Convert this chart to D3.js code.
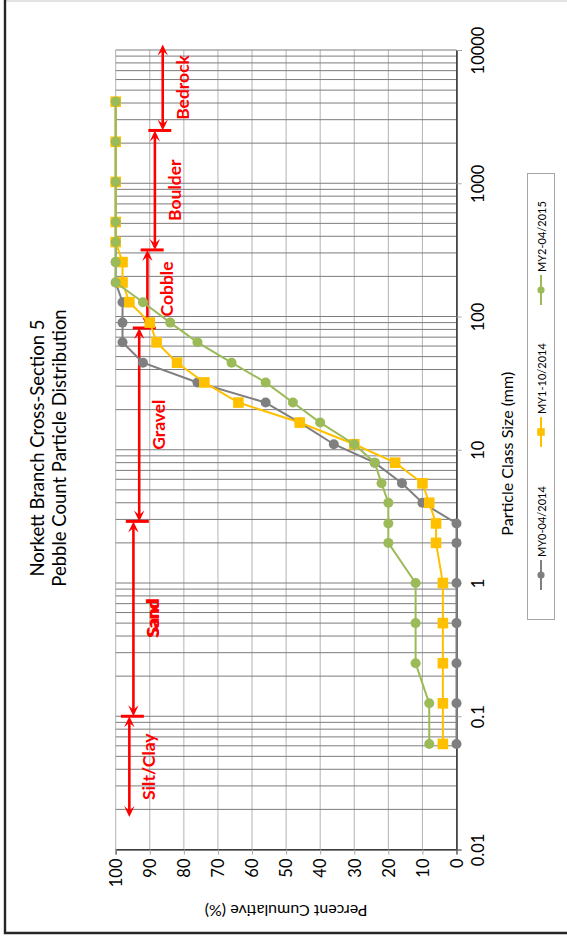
<!DOCTYPE html>
<html>
<head>
<meta charset="utf-8">
<script src="https://cdn.jsdelivr.net/npm/d3@7"></script>
<style>
  html, body { margin: 0; padding: 0; background: #fff; }
  svg { display: block; font-family: Lato, "Noto Sans", sans-serif; }
</style>
</head>
<body>
<svg id="chart" width="567" height="937"></svg>
<script>
// Particle class sizes (mm) and cumulative percent finer for each survey
const sizes = [0.062, 0.125, 0.25, 0.5, 1, 2, 2.8, 4, 5.6, 8, 11, 16, 22.6, 32, 45, 64, 90, 128, 180, 256, 362, 512, 1024, 2048, 4096];
const my0 = [0, 0, 0, 0, 0, 0, 0, 10, 16, 24, 36, 46, 56, 76, 92, 98, 98, 98, 100, 100, 100, 100, 100, 100, 100];
const my1 = [4, 4, 4, 4, 4, 6, 6, 8, 10, 18, 30, 46, 64, 74, 82, 88, 90, 96, 98, 98, 100, 100, 100, 100, 100];
const my2 = [8, 8, 12, 12, 12, 20, 20, 20, 22, 24, 30, 40, 48, 56, 66, 76, 84, 92, 100, 100, 100, 100, 100, 100, 100];
const seriesNames = ["MY0-04/2014", "MY1-10/2014", "MY2-04/2015"];

// Axis ticks
const sizeTicks = [0.01, 0.1, 1, 10, 100, 1000, 10000];
const sizeTickLabels = ["0.01", "0.1", "1", "10", "100", "1000", "10000"];
const pctTicks = [0, 10, 20, 30, 40, 50, 60, 70, 80, 90, 100];

// Substrate class ranges (mm) marked with red arrows, and the percent column each arrow sits at
const classNames = ["Silt/Clay", "Sand", "Gravel", "Cobble", "Boulder", "Bedrock"];
const classBounds = [0.0175, 0.1, 2.9, 82, 316, 2490, 11000];
const classPct = [96.0, 94.8, 93.1, 90.7, 88.5, 86.2];

const titleLines = ["Norkett Branch Cross-Section 5", "Pebble Count Particle Distribution"];

const svg = d3.select("#chart");
const W = 567, H = 937;

// Scales: particle size runs up the page, percent runs right-to-left
const y = d3.scaleLog().domain([0.01, 10000]).range([849.5, 50]);
const x = d3.scaleLinear().domain([0, 100]).range([456.5, 115.7]);

// Frame around the chart
svg.append("rect").attr("x", 0).attr("y", 0).attr("width", W).attr("height", H).attr("fill", "#fff");
svg.append("line").attr("x1", 5).attr("x2", W).attr("y1", 1).attr("y2", 1)
  .attr("stroke", "#e3e3e3").attr("stroke-width", 2);
svg.append("path").attr("d", `M5,0V933H${W}`).attr("fill", "none")
  .attr("stroke", "#262626").attr("stroke-width", 2.4);

// Gridlines
const minorTicks = [];
for (let k = -2; k <= 3; k++) for (let m = 1; m <= 9; m++) minorTicks.push(+(m * Math.pow(10, k)).toPrecision(3));
minorTicks.push(10000);

const grid = svg.append("g");
grid.selectAll("line.v").data(pctTicks).join("line")
  .attr("x1", d => x(d)).attr("x2", d => x(d))
  .attr("y1", y(10000)).attr("y2", y(0.01))
  .attr("stroke", "#b3b3b3").attr("stroke-width", 1);
grid.selectAll("line.h").data(minorTicks).join("line")
  .attr("x1", x(100)).attr("x2", x(0))
  .attr("y1", d => y(d)).attr("y2", d => y(d))
  .attr("stroke", "#7c7c7c").attr("stroke-width", 1);

// Size axis (right side)
const sizeAxis = svg.append("g").attr("transform", `translate(${x(0)},0)`)
  .call(d3.axisRight(y).tickValues(sizeTicks).tickSize(5)
    .tickFormat((d, i) => sizeTickLabels[i]));
sizeAxis.select(".domain").attr("stroke", "#000").attr("stroke-width", 1.2);
sizeAxis.selectAll(".tick line").attr("stroke", "#a6a6a6");
sizeAxis.selectAll(".tick text")
  .attr("x", null).attr("dy", null).attr("y", null)
  .attr("transform", "translate(27.5,0) rotate(-90)")
  .attr("text-anchor", "middle")
  .attr("fill", "#000")
  .style("font-size", "16.5px")
  .style("font-family", "Lato, sans-serif");

// Percent axis (bottom)
const pctAxis = svg.append("g").attr("transform", `translate(0,${y(0.01)})`)
  .call(d3.axisBottom(x).tickValues(pctTicks).tickSize(5).tickFormat(d3.format("d")));
pctAxis.select(".domain").attr("stroke", "#000").attr("stroke-width", 1.2);
pctAxis.selectAll(".tick line").attr("stroke", "#a6a6a6");
pctAxis.selectAll(".tick text")
  .attr("y", null).attr("dy", null)
  .attr("transform", "translate(5.8,9) rotate(-90)")
  .attr("text-anchor", "end")
  .attr("fill", "#000")
  .style("font-size", "16.5px")
  .style("font-family", "Lato, sans-serif");

// Axis titles
svg.append("text")
  .attr("transform", `translate(513,${(y(0.01) + y(10000)) / 2 + 4}) rotate(-90)`)
  .attr("text-anchor", "middle").attr("fill", "#000")
  .style("font-size", "16px").text("Particle Class Size (mm)");
svg.append("text")
  .attr("transform", `translate(${(x(0) + x(100)) / 2},905) rotate(180)`)
  .attr("text-anchor", "middle").attr("fill", "#000")
  .style("font-size", "16px").text("Percent Cumulative (%)");

// Chart title
titleLines.forEach((t, i) => {
  svg.append("text")
    .attr("transform", `translate(${44 + i * 22},448) rotate(-90)`)
    .attr("text-anchor", "middle").attr("fill", "#000")
    .style("font-size", "18.5px").text(t);
});

// Substrate class arrows
const red = "#ff0000";
const ann = svg.append("g");
function head(px, py, dir) {
  // dir = -1 points up, +1 points down
  const L = 11, w = 5.2, n = 6.5;
  return `M${px},${py}L${px - w},${py - dir * L}L${px},${py - dir * n}L${px + w},${py - dir * L}Z`;
}
classNames.forEach((name, i) => {
  const ax = x(classPct[i]);
  const yBot = y(classBounds[i]);
  const yTop = y(classBounds[i + 1]);
  ann.append("line").attr("x1", ax).attr("x2", ax)
    .attr("y1", yBot - 5).attr("y2", yTop + 5)
    .attr("stroke", red).attr("stroke-width", 2.6);
  ann.append("path").attr("d", head(ax, yBot, 1)).attr("fill", red);
  ann.append("path").attr("d", head(ax, yTop, -1)).attr("fill", red);
  if (i < classNames.length - 1) {
    const mid = (ax + x(classPct[i + 1])) / 2;
    ann.append("line").attr("x1", mid - 10.5).attr("x2", mid + 12.5)
      .attr("y1", yTop).attr("y2", yTop)
      .attr("stroke", red).attr("stroke-width", 3);
  }
  const ym = (yBot + yTop) / 2;
  const reps = name === "Sand" ? [0, 1.6] : [0];
  reps.forEach(off => {
    ann.append("text")
      .attr("transform", `translate(${ax + 26},${ym - off}) rotate(-90)`)
      .attr("text-anchor", "middle").attr("fill", red)
      .style("font-size", "17.5px").style("font-weight", "bold").text(name);
  });
});

// Data series
const colors = ["#7f7f7f", "#ffc000", "#9bbb59"];
const series = [my0, my1, my2];
const line = d3.line().x(d => x(d[1])).y(d => y(d[0]));
series.forEach((vals, si) => {
  const pts = sizes.map((s, i) => [s, vals[i]]);
  const g = svg.append("g");
  g.append("path").datum(pts).attr("d", line)
    .attr("fill", "none").attr("stroke", colors[si]).attr("stroke-width", 2);
  if (si === 1) {
    g.selectAll("rect").data(pts).join("rect")
      .attr("x", d => x(d[1]) - 5.3).attr("y", d => y(d[0]) - 5.3)
      .attr("width", 10.6).attr("height", 10.6).attr("fill", colors[si]);
  } else {
    g.selectAll("circle").data(pts).join("circle")
      .attr("cx", d => x(d[1])).attr("cy", d => y(d[0])).attr("r", 5)
      .attr("fill", colors[si]);
  }
});

// Legend
const lg = svg.append("g");
lg.append("rect").attr("x", 527.5).attr("y", 173.5).attr("width", 27).attr("height", 446)
  .attr("fill", "#fff").attr("stroke", "#a6a6a6").attr("stroke-width", 1);
const legendY = [575, 432, 290];
seriesNames.forEach((name, si) => {
  const cy = legendY[si], cx = 541;
  lg.append("line").attr("x1", cx).attr("x2", cx).attr("y1", cy - 15).attr("y2", cy + 15)
    .attr("stroke", colors[si]).attr("stroke-width", 2);
  if (si === 1) {
    lg.append("rect").attr("x", cx - 3.8).attr("y", cy - 3.8).attr("width", 7.6).attr("height", 7.6)
      .attr("fill", colors[si]);
  } else {
    lg.append("circle").attr("cx", cx).attr("cy", cy).attr("r", 3.6).attr("fill", colors[si]);
  }
  lg.append("text")
    .attr("transform", `translate(${cx + 5},${cy - 18}) rotate(-90)`)
    .attr("text-anchor", "start").attr("fill", "#000")
    .style("font-size", "11px").text(name);
});
</script>
</body>
</html>
